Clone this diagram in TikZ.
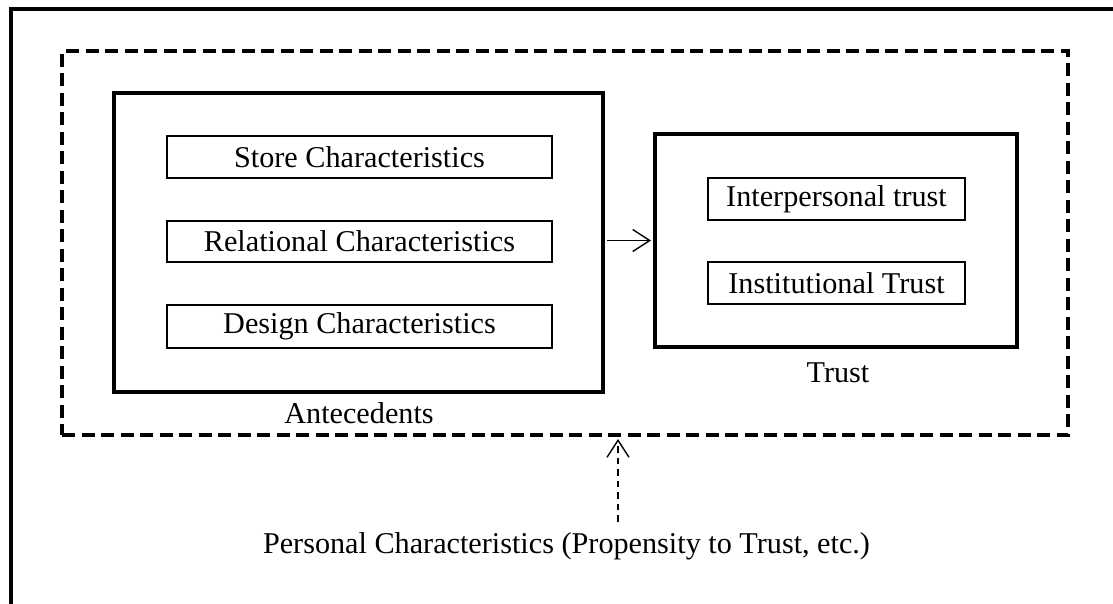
\documentclass[tikz,border=0pt]{standalone}
\usepackage{fontspec}
\setmainfont{Liberation Serif}
\usetikzlibrary{arrows.meta}
\begin{document}
\begin{tikzpicture}[x=1pt,y=-1pt,
  txt/.style={font=\fontsize{30.2}{36}\selectfont},
  lbl/.style={txt,inner sep=0pt},
  itembox/.style={txt,draw,line width=2pt,inner sep=0pt},
  bigbox/.style={draw,line width=4pt,inner sep=0pt},
  dashbox/.style={draw,line width=4pt,dash pattern=on 13pt off 6.5pt,inner sep=0pt},
  tip/.style={-{Straight Barb[length=17pt,width=22pt,line width=1.4pt]}},
  flow/.style={tip,line width=1.4pt},
  dflow/.style={tip,line width=1.4pt,dash pattern=on 6.5pt off 5pt}]
\useasboundingbox (0,0) rectangle (1113,603);
\fill[white] (0,0) rectangle (1113,603);
\draw[line width=4pt] (1130,9) -- (10.5,9) -- (10.5,620);
\node[dashbox,minimum width=1006pt,minimum height=384pt] (dash) at (565,243) {};
\node[bigbox,minimum width=489pt,minimum height=299pt] (ante) at (358.5,242.5) {};
\node[itembox,minimum width=385pt,minimum height=42pt] (store) at (359.5,157) {Store Characteristics};
\node[itembox,minimum width=385pt,minimum height=41pt] (rel) at (359.5,241.5) {Relational Characteristics};
\node[itembox,minimum width=385pt,minimum height=43pt] (design) at (359.5,326.5) {Design Characteristics};
\node[lbl,anchor=base] (antel) at (359,423) {Antecedents};
\node[bigbox,minimum width=362pt,minimum height=213pt] (trust) at (836,240.5) {};
\node[itembox,minimum width=257pt,minimum height=42pt] (inter) at (836.5,199) {Interpersonal trust};
\node[itembox,minimum width=257pt,minimum height=42pt] (inst) at (836.5,283) {Institutional Trust};
\node[lbl,anchor=base] (trustl) at (838,382) {Trust};
\node[lbl,anchor=base] (pers) at (566.5,553) {Personal Characteristics (Propensity to Trust, etc.)};
\coordinate (ax) at (618,0);
\draw[flow,shorten <=2pt,shorten >=2pt] (trust.west -| ante.east) -- (trust.west);
\draw[dflow] ([yshift=10pt]pers.north -| ax) -- ([yshift=-2pt]dash.south -| ax);
\end{tikzpicture}
\end{document}
